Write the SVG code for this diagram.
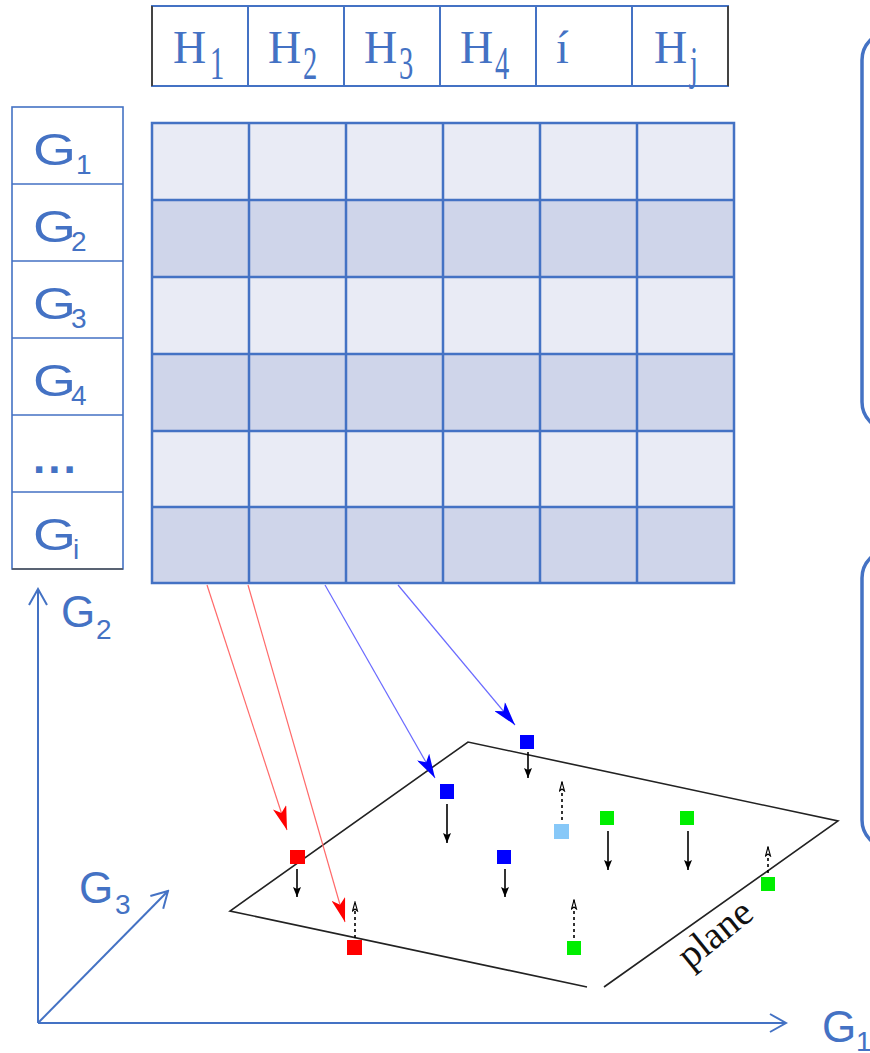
<svg xmlns="http://www.w3.org/2000/svg" width="870" height="1053" viewBox="0 0 870 1053">
<style>
.hdr{font-family:"Liberation Serif","Times New Roman",serif;fill:#4472C4;font-size:46px}
.sub{font-family:"Liberation Serif","Times New Roman",serif;fill:#4472C4;font-size:46px}
.g{font-family:"Liberation Sans",Arial,sans-serif;fill:#4472C4;font-size:44px}
.gs{font-family:"Liberation Sans",Arial,sans-serif;fill:#4472C4;font-size:28px}
.grid{stroke:#4472C4;stroke-width:2.5;fill:none}
.light{fill:#E9EBF5}
.dark{fill:#CFD5EA}
.gbox{stroke:#4472C4;stroke-width:1.6;fill:#fff}
.axis{stroke:#4472C4;stroke-width:2;fill:none}
.redl{stroke:#ff6a6a;stroke-width:1.2;fill:none}
.bluel{stroke:#6a6aff;stroke-width:1.2;fill:none}
.down{stroke:#000;stroke-width:1.6;fill:none}
.up{stroke:#000;stroke-width:1.6;fill:none;stroke-dasharray:3 3}
.pt{stroke:none}
.rbox{stroke:#4472C4;stroke-width:3.5;fill:none}
</style>
<defs>
<marker id="ahRed" markerUnits="userSpaceOnUse" viewBox="0 0 24 14" markerWidth="24" markerHeight="14" refX="24" refY="7" orient="auto"><path d="M0,0 L24,7 L0,14 L6,7 z" fill="#ff0000"/></marker>
<marker id="ahBlue" markerUnits="userSpaceOnUse" viewBox="0 0 24 14" markerWidth="24" markerHeight="14" refX="24" refY="7" orient="auto"><path d="M0,0 L24,7 L0,14 L6,7 z" fill="#0000ff"/></marker>
<marker id="ahBlack" markerUnits="userSpaceOnUse" viewBox="0 0 10 8" markerWidth="10" markerHeight="8" refX="10" refY="4" orient="auto"><path d="M0,0 L10,4 L0,8 L2,4 z" fill="#000"/></marker>
<marker id="ahOpen" markerUnits="userSpaceOnUse" viewBox="-1 -1 11 7" markerWidth="11" markerHeight="7" refX="9" refY="2.5" orient="auto"><path d="M0,0 L9,2.5 L0,5 L2,2.5 z" fill="#fff" stroke="#000" stroke-width="1.1"/></marker>
<marker id="axHead" markerUnits="userSpaceOnUse" viewBox="0 0 20 20" markerWidth="20" markerHeight="20" refX="18" refY="10" orient="auto"><path d="M2,1 L18,10 L2,19" fill="none" stroke="#4472C4" stroke-width="2"/></marker>
</defs>
<rect width="870" height="1053" fill="#fff"/>

<g id="header">
<rect x="152" y="6" width="576" height="80" fill="#fff" stroke="#4472C4" stroke-width="2"/>
<line x1="152" y1="6" x2="152" y2="86" stroke="#444" stroke-width="2"/>
<line x1="728" y1="6" x2="728" y2="86" stroke="#444" stroke-width="2"/>
<path d="M248,6V86M344,6V86M440,6V86M536,6V86M632,6V86" stroke="#4472C4" stroke-width="2"/>
<text class="hdr" x="173" y="63">H</text><text class="sub" transform="translate(210,79) scale(0.62,1)">1</text>
<text class="hdr" x="268" y="63">H</text><text class="sub" transform="translate(303,79) scale(0.62,1)">2</text>
<text class="hdr" x="364" y="63">H</text><text class="sub" transform="translate(399,79) scale(0.62,1)">3</text>
<text class="hdr" x="460" y="63">H</text><text class="sub" transform="translate(495,79) scale(0.62,1)">4</text>
<text class="hdr" x="556" y="63">í</text>
<text class="hdr" x="654" y="63">H</text><text class="sub" transform="translate(690,79) scale(0.62,1)">j</text>
</g>

<g id="gene-column">
<rect class="gbox" x="12" y="107" width="111" height="462"/>
<path d="M12,184H123M12,261H123M12,338H123M12,415H123M12,492H123" stroke="#4472C4" stroke-width="1.6"/>
<line x1="12" y1="569" x2="123" y2="569" stroke="#555" stroke-width="1.6"/>
<text class="g" x="33" y="165" textLength="43" lengthAdjust="spacingAndGlyphs">G</text><text class="gs" x="76" y="174">1</text>
<text class="g" x="33" y="242" textLength="43" lengthAdjust="spacingAndGlyphs">G</text><text class="gs" x="71" y="251">2</text>
<text class="g" x="33" y="319" textLength="43" lengthAdjust="spacingAndGlyphs">G</text><text class="gs" x="71" y="328">3</text>
<text class="g" x="33" y="396" textLength="43" lengthAdjust="spacingAndGlyphs">G</text><text class="gs" x="71" y="405">4</text>
<text class="g" x="33" y="473" font-weight="bold" letter-spacing="3">...</text>
<text class="g" x="33" y="550" textLength="43" lengthAdjust="spacingAndGlyphs">G</text><text class="gs" x="73" y="559">i</text>
</g>

<g id="matrix">
<rect class="light" x="152" y="123" width="582" height="77"/>
<rect class="dark" x="152" y="200" width="582" height="77"/>
<rect class="light" x="152" y="277" width="582" height="77"/>
<rect class="dark" x="152" y="354" width="582" height="77"/>
<rect class="light" x="152" y="431" width="582" height="76"/>
<rect class="dark" x="152" y="507" width="582" height="76"/>
<rect class="grid" x="152" y="123" width="582" height="460"/>
<path class="grid" d="M249,123V583M346,123V583M443,123V583M540,123V583M637,123V583M152,200H734M152,277H734M152,354H734M152,431H734M152,507H734"/>
</g>

<g id="axes">
<line class="axis" x1="38" y1="1023" x2="38" y2="589" marker-end="url(#axHead)"/>
<line class="axis" x1="38" y1="1023" x2="786" y2="1023" marker-end="url(#axHead)"/>
<line class="axis" x1="38" y1="1023" x2="168" y2="891" marker-end="url(#axHead)"/>
<text class="g" x="61" y="627">G</text><text class="gs" x="96" y="639">2</text>
<text class="g" x="79" y="903">G</text><text class="gs" x="115" y="914">3</text>
<text class="g" x="822" y="1042">G</text><text class="gs" x="856" y="1051">1</text>
</g>

<g id="plane">
<path d="M587,987 L230,911 L468,742 L838,821 L604,987" fill="none" stroke="#222" stroke-width="1.6"/>
<text transform="translate(690,970) rotate(-39)" font-family="'Liberation Serif','Times New Roman',serif" font-size="39" fill="#111">plane</text>
</g>

<g id="connectors">
<line class="redl" x1="207" y1="585" x2="287" y2="830" marker-end="url(#ahRed)"/>
<line class="redl" x1="248" y1="585" x2="345" y2="922" marker-end="url(#ahRed)"/>
<line class="bluel" x1="325" y1="585" x2="435" y2="778" marker-end="url(#ahBlue)"/>
<line class="bluel" x1="398" y1="585" x2="515" y2="725" marker-end="url(#ahBlue)"/>
<line class="down" x1="528" y1="752" x2="528" y2="778" marker-end="url(#ahBlack)"/>
<line class="down" x1="447" y1="804" x2="447" y2="843" marker-end="url(#ahBlack)"/>
<line class="down" x1="297" y1="869" x2="297" y2="897" marker-end="url(#ahBlack)"/>
<line class="down" x1="505" y1="869" x2="505" y2="897" marker-end="url(#ahBlack)"/>
<line class="down" x1="608" y1="831" x2="608" y2="870" marker-end="url(#ahBlack)"/>
<line class="down" x1="688" y1="831" x2="688" y2="870" marker-end="url(#ahBlack)"/>
<line class="up" x1="355" y1="938" x2="355" y2="902" marker-end="url(#ahOpen)"/>
<line class="up" x1="562" y1="820" x2="562" y2="782" marker-end="url(#ahOpen)"/>
<line class="up" x1="574" y1="938" x2="574" y2="900" marker-end="url(#ahOpen)"/>
<line class="up" x1="768" y1="873" x2="768" y2="847" marker-end="url(#ahOpen)"/>
</g>

<g id="points">
<rect class="pt" x="520" y="735" width="14" height="14" fill="#0000ff"/>
<rect class="pt" x="440" y="784" width="14" height="15" fill="#0000ff"/>
<rect class="pt" x="290" y="850" width="15" height="14" fill="#ff0000"/>
<rect class="pt" x="347" y="940" width="15" height="15" fill="#ff0000"/>
<rect class="pt" x="497" y="850" width="14" height="14" fill="#0000ff"/>
<rect class="pt" x="554" y="824" width="15" height="15" fill="#87c8f8"/>
<rect class="pt" x="600" y="811" width="14" height="14" fill="#00ee00"/>
<rect class="pt" x="680" y="811" width="14" height="14" fill="#00ee00"/>
<rect class="pt" x="567" y="941" width="14" height="14" fill="#00ee00"/>
<rect class="pt" x="761" y="877" width="14" height="14" fill="#00ee00"/>
</g>

<g id="box1"><rect class="rbox" x="862" y="32" width="60" height="398" rx="28"/></g>
<g id="box2"><rect class="rbox" x="862" y="550" width="60" height="298" rx="28"/></g>
</svg>
